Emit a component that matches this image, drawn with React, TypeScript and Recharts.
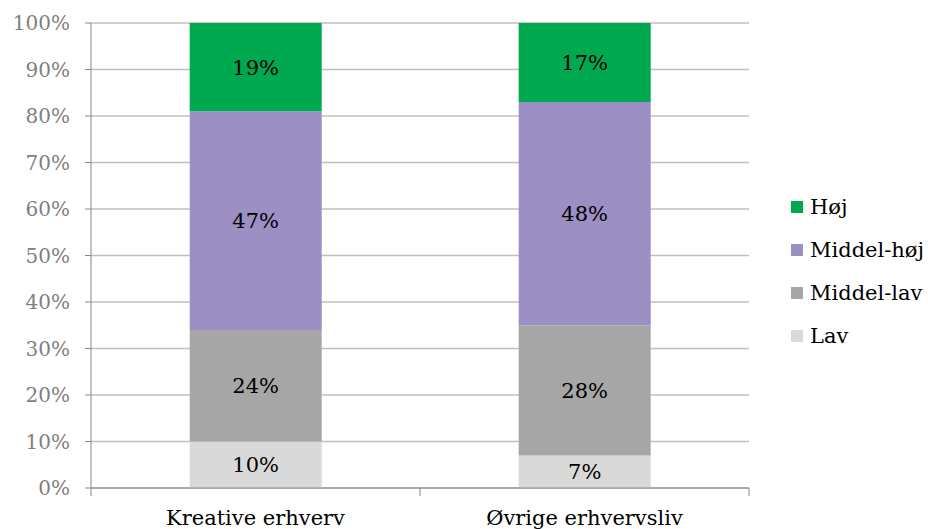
import { BarChart, Bar, XAxis, YAxis, CartesianGrid, LabelList } from "recharts";

const categories = ["Kreative erhverv", "Øvrige erhvervsliv"];
const lav = [10, 7];
const middelLav = [24, 28];
const middelHoej = [47, 48];
const hoej = [19, 17];
const yTicks = [0, 10, 20, 30, 40, 50, 60, 70, 80, 90, 100];

const series = [
  { key: "lav", name: "Lav", color: "#D9D9D9" },
  { key: "middelLav", name: "Middel-lav", color: "#A6A6A6" },
  { key: "middelHoej", name: "Middel-høj", color: "#9B8FC4" },
  { key: "hoej", name: "Høj", color: "#00A84F" },
];

const data = categories.map((c, i) => ({
  kategori: c,
  lav: lav[i],
  middelLav: middelLav[i],
  middelHoej: middelHoej[i],
  hoej: hoej[i],
}));

const FONT = "'DejaVu Serif', Georgia, serif";

function CategoryTick(props: any) {
  const { x, y, payload, index, visibleTicksCount, width } = props;
  const half = payload?.offset ? payload.offset : width / visibleTicksCount / 2;
  return (
    <g>
      <line x1={x - half} x2={x - half} y1={y} y2={y + 8} stroke="#868686" strokeWidth={1} />
      {index === visibleTicksCount - 1 && (
        <line x1={x + half} x2={x + half} y1={y} y2={y + 8} stroke="#868686" strokeWidth={1} />
      )}
      <text x={x} y={y + 37} textAnchor="middle" fill="#000" fontSize={21} fontFamily={FONT}>
        {payload.value}
      </text>
    </g>
  );
}

export default function App() {
  return (
    <div style={{ position: "absolute", left: 0, top: 0, width: 928, height: 529, background: "#fff" }}>
      <BarChart
        width={928}
        height={529}
        data={data}
        margin={{ top: 23, right: 179, left: 0, bottom: 0 }}
        barCategoryGap="30%"
      >
        <CartesianGrid vertical={false} stroke="#C0C0C0" strokeWidth={1.5} />
        <XAxis
          dataKey="kategori"
          height={41}
          stroke="#868686"
          tickLine={false}
          tickSize={0}
          tickMargin={0}
          tick={<CategoryTick />}
          interval={0}
        />
        <YAxis
          width={91}
          domain={[0, 100]}
          ticks={yTicks}
          tickFormatter={(v) => `${v}%`}
          stroke="#868686"
          tickSize={6}
          tickMargin={15}
          tick={{ fill: "#7F7F7F", fontSize: 20, fontFamily: FONT }}
          interval={0}
        />
        {series.map((s) => (
          <Bar key={s.key} dataKey={s.key} name={s.name} stackId="a" fill={s.color} isAnimationActive={false}>
            <LabelList
              dataKey={s.key}
              position="center"
              formatter={(v: any) => `${v}%`}
              fill="#000"
              fontSize={21}
              fontFamily={FONT}
            />
          </Bar>
        ))}
      </BarChart>
      <div style={{ position: "absolute", left: 791, top: 185, fontFamily: FONT, fontSize: 21, color: "#000" }}>
        {[...series].reverse().map((s) => (
          <div key={s.key} style={{ display: "flex", alignItems: "center", height: 43 }}>
            <span style={{ width: 12, height: 12, background: s.color, display: "inline-block", marginRight: 7 }} />
            <span>{s.name}</span>
          </div>
        ))}
      </div>
    </div>
  );
}
